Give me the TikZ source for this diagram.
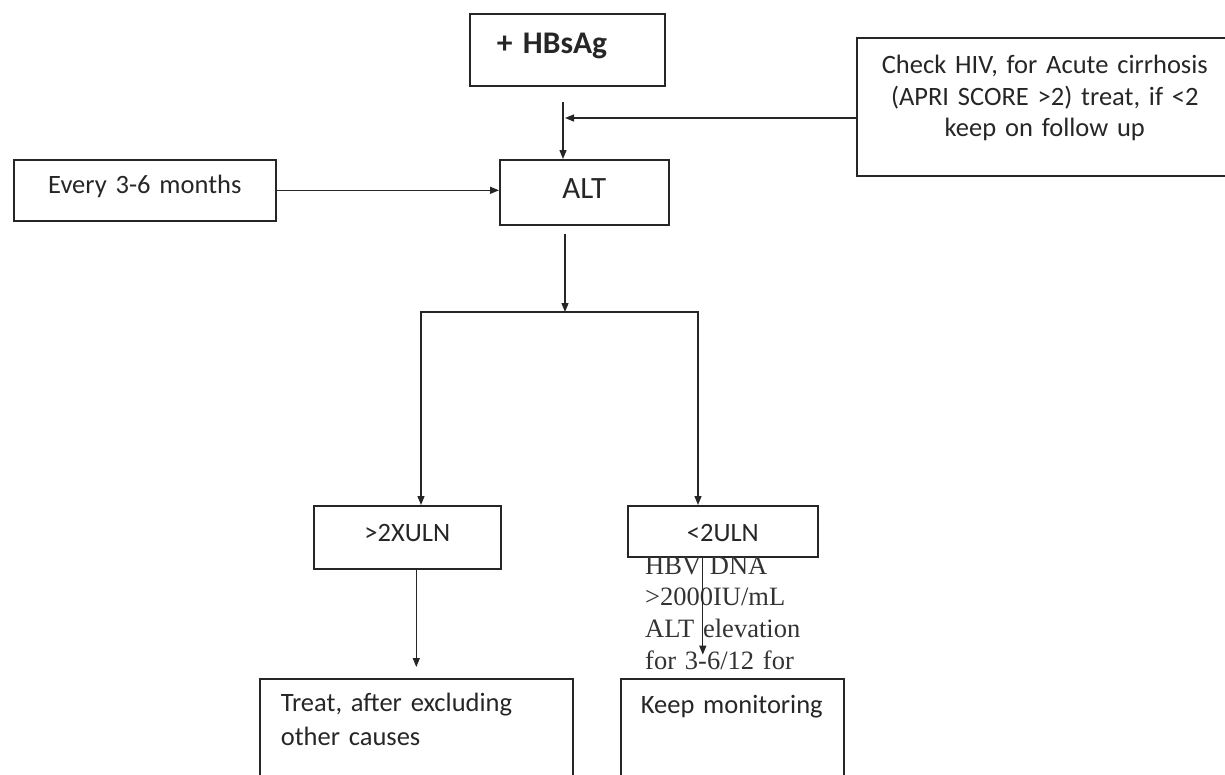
\documentclass[tikz,border=0pt]{standalone}
\usepackage{fontspec}
\usepackage{tikz}
\usetikzlibrary{arrows.meta,calc}
\setmainfont{Carlito}
\newfontfamily\serifface{Liberation Serif}
\tikzstyle{box}=[draw=black!85,line width=1.6pt,rectangle,inner sep=0pt,anchor=north west,align=center,text=black!85,font=\fontsize{26.5}{31.5}\selectfont]
\tikzstyle{arrow}=[draw=black!85,line width=1.3pt,-{Triangle[length=9pt,width=7pt]}]
\tikzstyle{fork}=[draw=black!85,line width=1.3pt,{Triangle[length=9pt,width=7pt]}-{Triangle[length=9pt,width=7pt]}]

\begin{document}
\begin{tikzpicture}[x=1pt,y=-1pt]
    \useasboundingbox (0,0) rectangle (1225,774);
    \clip (0,0) rectangle (1225,774);
    % First we draw the boxes
    \node[box, text width=141pt, inner xsep=27pt, align=left, text height=40pt, text depth=32pt, font=\fontsize{31.5}{36}\selectfont\bfseries] (hbsag) at (469,13) {+ HBsAg};
    \node[box, text width=376pt, text height=36pt, text depth=102pt] (check) at (856,37) {Check HIV, for Acute cirrhosis\\(APRI SCORE >2) treat, if <2\\keep on follow up};
    \node[box, text width=262pt, text height=34pt, text depth=27pt] (every) at (13,159) {Every 3-6 months};
    \node[box, text width=169pt, text height=39pt, text depth=26pt, font=\fontsize{31}{36}\selectfont] (alt) at (499,159) {ALT};
    \node[box, text width=187pt, text height=35.5pt, text depth=27.5pt] (high) at (313,505) {>2XULN};
    \node[box, text width=190pt, text height=35.5pt, text depth=15.5pt] (low) at (627,505) {<2ULN};
    \node[box, text width=271pt, inner xsep=21pt, align=left, text height=33pt, text depth=167pt, font=\fontsize{26.5}{34}\selectfont] (treat) at (259,678) {Treat, after excluding\\other causes};
    \node[box, text width=183pt, inner xsep=20pt, align=left, text height=35pt, text depth=165pt] (keep) at (620,678) {Keep monitoring};

    % Loose text under the <2ULN box
    \node[anchor=base west, inner sep=0pt, text width=200pt, align=left, text=black!80, font=\serifface\fontsize{26.5}{31.7}\selectfont] (hbv) at (645,574) {HBV DNA\\>2000IU/mL\\ALT elevation\\for 3-6/12 for};

    % Then the arrows between them
    \coordinate (hbsag out) at (563,102);
    \coordinate (join) at (565,118);
    \coordinate (split) at (565,312);
    \coordinate (split left) at (421,312);
    \coordinate (split right) at (698,312);
    \draw[arrow] (hbsag out) -- (hbsag out |- alt.north);
    \draw[arrow] (check.west |- join) -- (join);
    \draw[arrow] (every.east) -- (every.east -| alt.west);
    \draw[arrow] ($(alt.south -| split)+(0,8)$) -- (split);
    \draw[fork] (split left |- high.north) -- (split left) -- (split right) -- (split right |- low.north);
    \draw[arrow] (treat.north |- high.south) -- ([yshift=11pt]treat.north);
    \draw[arrow] ([xshift=-20pt]low.south) -- ([xshift=-20pt,yshift=-97pt]low.south);
\end{tikzpicture}
\end{document}
